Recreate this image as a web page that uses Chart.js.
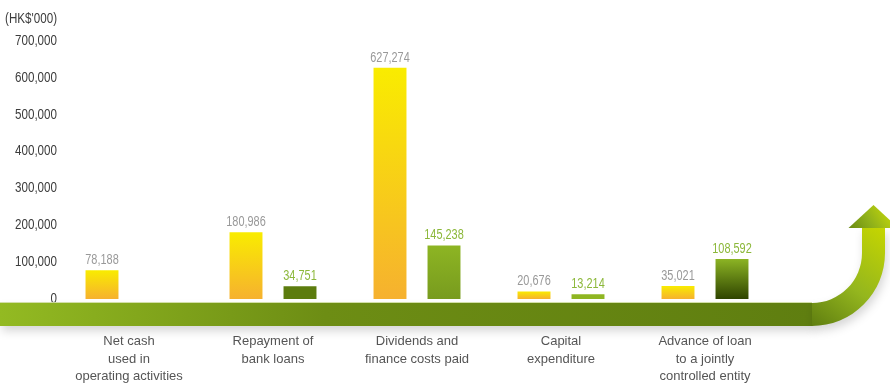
<!DOCTYPE html>
<html>
<head>
<meta charset="utf-8">
<script src="https://cdn.jsdelivr.net/npm/chart.js@4.4.1/dist/chart.umd.min.js"></script>
<style>
html, body { margin: 0; padding: 0; background: #fff; }
#wrap { width: 890px; height: 384px; position: relative; }
</style>
</head>
<body>
<div id="wrap"><canvas id="cashChart"></canvas></div>
<script>
// Data
const categories = [
    ['Net cash', 'used in', 'operating activities'],
    ['Repayment of', 'bank loans'],
    ['Dividends and', 'finance costs paid'],
    ['Capital', 'expenditure'],
    ['Advance of loan', 'to a jointly', 'controlled entity']
];
const yellowValues = [78188, 180986, 627274, 20676, 35021];
const greenValues = [null, 34751, 145238, 13214, 108592];
const yTicks = [0, 100000, 200000, 300000, 400000, 500000, 600000, 700000];
const unitLabel = "(HK$'000)";

// Styles
const sansFont = "'Liberation Sans', Arial, sans-serif";
const squeeze = 0.83; // reference uses a condensed face
const greenTop = ['#8db523', '#5c7c0e', '#8db523', '#8fb622', '#8cb424'];
const greenBottom = ['#8db523', '#5c7c0e', '#789b1e', '#8fb622', '#2f4400'];

const fmt = v => v.toLocaleString('en-US');

function barFill(topColors, bottomColors) {
    return (c) => {
        const chart = c.chart;
        const i = c.dataIndex;
        const top = Array.isArray(topColors) ? topColors[i] : topColors;
        const bottom = Array.isArray(bottomColors) ? bottomColors[i] : bottomColors;
        const v = c.dataset.data[i];
        if (!chart.chartArea || v == null) return top;
        const y = chart.scales.y;
        const g = chart.ctx.createLinearGradient(0, y.getPixelForValue(v), 0, y.getPixelForValue(0));
        g.addColorStop(0, top);
        g.addColorStop(1, bottom);
        return g;
    };
}

// draw condensed text anchored at x
function narrowText(ctx, text, x, y, k = squeeze) {
    ctx.save();
    ctx.translate(x, y);
    ctx.scale(k, 1);
    ctx.fillText(text, 0, 0);
    ctx.restore();
}

// Green arrow running under the bars
const arrowPlugin = {
    id: 'arrow',
    afterLayout(chart) {
        // squeeze the y tick labels horizontally, anchored on their right edge
        const y = chart.scales.y;
        if (y._squeezed) return;
        const orig = y.drawLabels.bind(y);
        y.drawLabels = (area) => {
            const c = chart.ctx;
            c.save();
            c.translate(y.right, 0);
            c.scale(squeeze, 1);
            c.translate(-y.right, 0);
            orig(area);
            c.restore();
        };
        y._squeezed = true;
    },
    beforeDatasetsDraw(chart) {
        const { ctx, chartArea, scales } = chart;
        const top = Math.round(scales.y.getPixelForValue(0)) + 4;
        const thick = 23;
        const bottom = top + thick;
        const rIn = 50, rOut = rIn + thick;
        const cx = chartArea.right + 35;
        const cy = top - rIn;
        const headBase = cy - 25;
        const tipX = cx + rIn + thick / 2, tipY = headBase - 23;

        ctx.save();
        ctx.shadowColor = 'rgba(0,0,0,0.16)';
        ctx.shadowBlur = 10;
        ctx.shadowOffsetY = 5;
        ctx.shadowOffsetX = 2;

        // straight part
        const band = ctx.createLinearGradient(0, 0, cx, 0);
        band.addColorStop(0, '#93ba22');
        band.addColorStop(0.4, '#6d8d14');
        band.addColorStop(1, '#5f7e10');
        ctx.fillStyle = band;
        ctx.fillRect(0, top, cx + 1, thick);

        // curve and shaft
        ctx.beginPath();
        ctx.moveTo(cx, top);
        ctx.arc(cx, cy, rIn, Math.PI / 2, 0, true);
        ctx.lineTo(cx + rIn, headBase);
        ctx.lineTo(cx + rOut, headBase);
        ctx.lineTo(cx + rOut, cy);
        ctx.arc(cx, cy, rOut, 0, Math.PI / 2, false);
        ctx.closePath();
        const curve = ctx.createLinearGradient(cx, bottom, cx + rOut, headBase);
        curve.addColorStop(0, '#5f7e10');
        curve.addColorStop(0.45, '#94b61e');
        curve.addColorStop(1, '#c6d600');
        ctx.fillStyle = curve;
        ctx.fill();
        ctx.restore();

        // arrow head
        ctx.save();
        ctx.beginPath();
        ctx.moveTo(tipX - 25, headBase);
        ctx.lineTo(tipX, tipY);
        ctx.lineTo(tipX + 25, headBase);
        ctx.closePath();
        const head = ctx.createLinearGradient(tipX - 25, headBase, tipX + 10, tipY);
        head.addColorStop(0, '#6a8a12');
        head.addColorStop(0.5, '#8fb01a');
        head.addColorStop(1, '#bdd20c');
        ctx.fillStyle = head;
        ctx.fill();

        // light edge on top of the band
        ctx.fillStyle = 'rgba(205,220,160,0.9)';
        ctx.fillRect(0, top - 1, cx, 1);
        ctx.restore();
    }
};

// Value labels and unit label
const labelPlugin = {
    id: 'labels',
    afterDatasetsDraw(chart) {
        const { ctx, scales } = chart;
        ctx.save();
        ctx.font = '14px ' + sansFont;
        ctx.textAlign = 'center';
        ctx.textBaseline = 'alphabetic';
        chart.data.datasets.forEach((ds, di) => {
            ctx.fillStyle = di === 0 ? '#999' : '#8cb83a';
            chart.getDatasetMeta(di).data.forEach((bar, i) => {
                const v = ds.data[i];
                if (v == null) return;
                narrowText(ctx, fmt(v), bar.x, bar.y - 6, 0.78);
            });
        });
        ctx.fillStyle = '#3c3c3c';
        ctx.textAlign = 'right';
        narrowText(ctx, unitLabel, scales.y.right, 23);
        ctx.restore();
    }
};

const chart = new Chart(document.getElementById('cashChart'), {
    type: 'bar',
    data: {
        labels: categories,
        datasets: [{
            label: 'Yellow',
            data: yellowValues,
            backgroundColor: barFill('#f9ec00', '#f6b12f'),
            categoryPercentage: 0.75,
            barPercentage: 0.61
        }, {
            label: 'Green',
            data: greenValues,
            backgroundColor: barFill(greenTop, greenBottom),
            categoryPercentage: 0.75,
            barPercentage: 0.61
        }]
    },
    options: {
        responsive: true,
        maintainAspectRatio: false,
        animation: false,
        layout: { padding: { top: 41, right: 113, left: 0, bottom: 0 } },
        plugins: {
            legend: { display: false },
            tooltip: { enabled: false }
        },
        scales: {
            x: {
                grid: { display: false, drawTicks: false },
                border: { display: false },
                ticks: {
                    padding: 34,
                    color: '#555',
                    font: { family: sansFont, size: 13, lineHeight: 1.35 },
                    maxRotation: 0,
                    autoSkip: false
                },
                afterFit: s => { s.height = 85; }
            },
            y: {
                min: 0,
                max: 700000,
                grid: { display: false, drawTicks: false },
                border: { display: false },
                afterBuildTicks: s => { s.ticks = yTicks.map(v => ({ value: v })); },
                afterFit: s => { s.width = 57; },
                ticks: {
                    padding: 0,
                    color: '#3c3c3c',
                    font: { family: sansFont, size: 14 },
                    callback: v => fmt(v)
                }
            }
        }
    },
    plugins: [arrowPlugin, labelPlugin]
});
</script>
</body>
</html>
